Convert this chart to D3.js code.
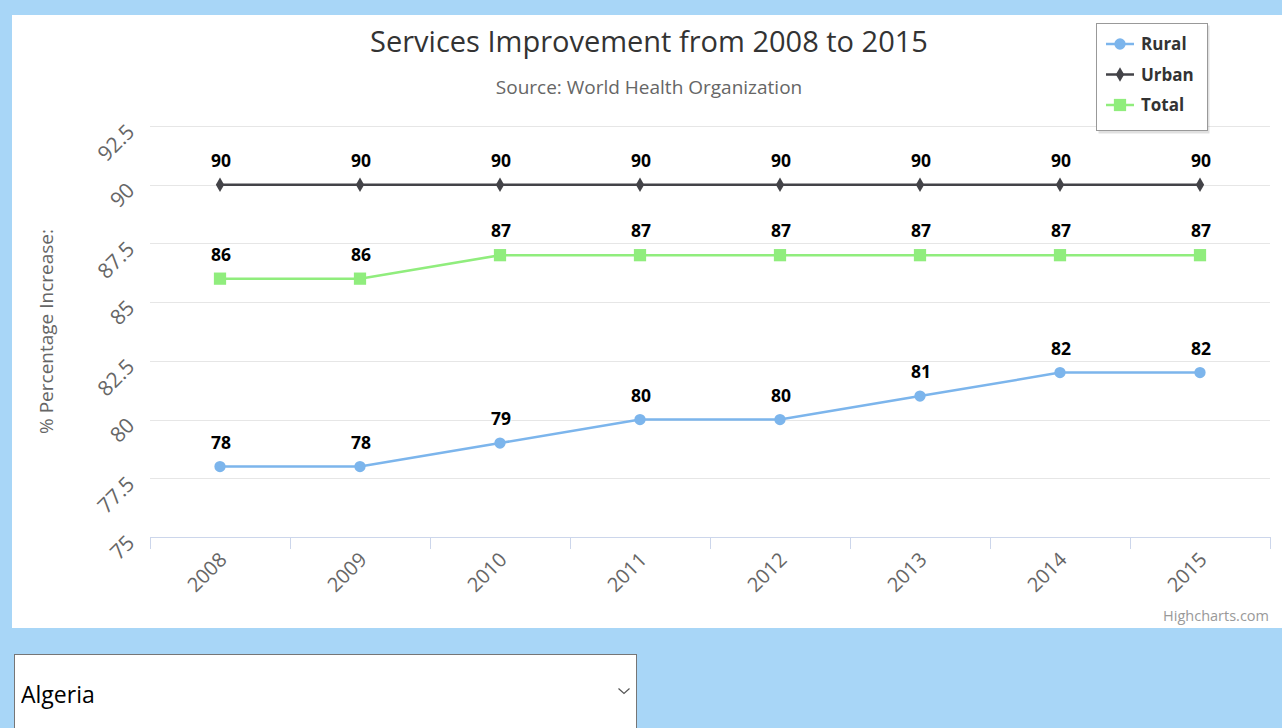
<!DOCTYPE html>
<html>
<head>
<meta charset="utf-8">
<script src="https://cdnjs.cloudflare.com/ajax/libs/d3/7.8.5/d3.min.js"></script>
<style>
  body { margin: 0; background: #a8d6f7; width: 1282px; height: 728px; overflow: hidden; position: relative; font-family: "Open Sans", sans-serif; }
  #panel { position: absolute; left: 12px; top: 15px; width: 1270px; height: 613px; background: #fff; }
  #chart { position: absolute; left: 0; top: 0; }
  #country { position: absolute; left: 14px; top: 654px; width: 623px; height: 80px; font-family: "Open Sans", sans-serif; font-size: 23px; color: #000; background: #fff; border: 1px solid #767676; padding-left: 6px; -webkit-appearance: none; appearance: none; border-radius: 0; }
  #chevron { position: absolute; left: 617px; top: 686px; }
</style>
</head>
<body>
<div id="panel"></div>
<div id="chart"></div>
<select id="country"><option>Algeria</option></select>
<svg id="chevron" width="14" height="10"><path d="M1.5,2.5 L7,7.5 L12.5,2.5" fill="none" stroke="#555" stroke-width="1.2"/></svg>
<script>
var years = ['2008', '2009', '2010', '2011', '2012', '2013', '2014', '2015'];
var rural = [78, 78, 79, 80, 80, 81, 82, 82];
var urban = [90, 90, 90, 90, 90, 90, 90, 90];
var total = [86, 86, 87, 87, 87, 87, 87, 87];
var yTicks = [75, 77.5, 80, 82.5, 85, 87.5, 90, 92.5];

var series = [
    {name: 'Rural', values: rural, color: '#7cb5ec', symbol: 'circle'},
    {name: 'Urban', values: urban, color: '#434348', symbol: 'diamond'},
    {name: 'Total', values: total, color: '#90ed7d', symbol: 'square'}
];

var svg = d3.select('#chart').append('svg')
    .attr('width', 1282)
    .attr('height', 728);

var x = d3.scaleBand().domain(years).range([150, 1270]);
var y = d3.scaleLinear().domain([75, 92.5]).range([537, 126]);

// title + subtitle
svg.append('text')
    .attr('x', 649).attr('y', 52)
    .attr('text-anchor', 'middle')
    .style('font-size', '29px').style('fill', '#333')
    .text('Services Improvement from 2008 to 2015');
svg.append('text')
    .attr('x', 649).attr('y', 94)
    .attr('text-anchor', 'middle')
    .style('font-size', '19px').style('fill', '#666')
    .text('Source: World Health Organization');

// grid
svg.append('g').selectAll('line')
    .data(yTicks.slice(1))
    .enter().append('line')
    .attr('x1', 150).attr('x2', 1270)
    .attr('y1', function(d){ return Math.round(y(d)) + 0.5; })
    .attr('y2', function(d){ return Math.round(y(d)) + 0.5; })
    .attr('stroke', '#e6e6e6');

// y axis labels
var yAxis = svg.append('g').attr('transform', 'translate(150,0)')
    .call(d3.axisLeft(y).tickValues(yTicks).tickFormat(function(d){ return d; }).tickSize(0).tickPadding(0));
yAxis.select('.domain').remove();
yAxis.selectAll('text')
    .attr('x', -20).attr('dy', null).attr('y', 0)
    .attr('transform', 'rotate(-45)')
    .style('font-family', '"Open Sans", sans-serif')
    .style('font-size', '21px').style('fill', '#666');
yAxis.selectAll('.tick')
    .attr('transform', function(d){ return 'translate(0,' + (y(d) - 7) + ')'; });

svg.append('text')
    .attr('transform', 'translate(53,' + ((y(75) + y(92.5)) / 2) + ') rotate(-90)')
    .attr('text-anchor', 'middle')
    .style('font-size', '19px').style('fill', '#666')
    .text('% Percentage Increase:');

// x axis
svg.append('line')
    .attr('x1', 150).attr('x2', 1270)
    .attr('y1', 537.5).attr('y2', 537.5)
    .attr('stroke', '#ccd6eb');
svg.append('g').selectAll('line')
    .data(years.map(function(d){ return x(d); }).concat([x.range()[1]]))
    .enter().append('line')
    .attr('x1', function(d){ return d + 0.5; })
    .attr('x2', function(d){ return d + 0.5; })
    .attr('y1', 537).attr('y2', 549)
    .attr('stroke', '#ccd6eb');
svg.append('g').selectAll('text')
    .data(years)
    .enter().append('text')
    .attr('transform', function(d){ return 'translate(' + (x(d) + x.bandwidth() / 2 + 8) + ',561) rotate(-45)'; })
    .attr('text-anchor', 'end')
    .style('font-size', '20px').style('fill', '#666')
    .text(function(d){ return d; });

// series
var line = d3.line()
    .x(function(d, i){ return x(years[i]) + x.bandwidth() / 2; })
    .y(function(d){ return y(d); });

var symbols = {circle: d3.symbolCircle, diamond: d3.symbolDiamond, square: d3.symbolSquare};
var sizes = {circle: 100, diamond: 60, square: 150};

series.forEach(function(s){
    var g = svg.append('g');
    g.append('path')
        .attr('d', line(s.values))
        .attr('fill', 'none')
        .attr('stroke', s.color)
        .attr('stroke-width', 2.5);
    g.selectAll('path.m')
        .data(s.values)
        .enter().append('path')
        .attr('class', 'm')
        .attr('d', d3.symbol().type(symbols[s.symbol]).size(sizes[s.symbol]))
        .attr('transform', function(d, i){ return 'translate(' + (x(years[i]) + x.bandwidth() / 2) + ',' + y(d) + ')'; })
        .attr('fill', s.color);
    g.selectAll('text')
        .data(s.values)
        .enter().append('text')
        .attr('x', function(d, i){ return x(years[i]) + x.bandwidth() / 2 + 1; })
        .attr('y', function(d){ return y(d) - 18; })
        .attr('text-anchor', 'middle')
        .style('font-size', '17.5px').style('font-weight', 'bold')
        .style('fill', '#000')
        .style('stroke', '#fff').style('stroke-width', 2).style('paint-order', 'stroke')
        .text(function(d){ return d; });
});

// legend
var legend = svg.append('g').attr('transform', 'translate(1096,23)');
legend.append('rect')
    .attr('x', 2.5).attr('y', 2.5).attr('width', 111).attr('height', 108)
    .attr('fill', '#000').attr('opacity', 0.12);
legend.append('rect')
    .attr('x', 0.5).attr('y', 0.5).attr('width', 111).attr('height', 107)
    .attr('fill', '#fff').attr('stroke', '#999');
series.forEach(function(s, i){
    var row = legend.append('g').attr('transform', 'translate(0,' + (21 + i * 30.5) + ')');
    row.append('line')
        .attr('x1', 10).attr('x2', 38)
        .attr('stroke', s.color).attr('stroke-width', 2.5);
    row.append('path')
        .attr('d', d3.symbol().type(symbols[s.symbol]).size(sizes[s.symbol]))
        .attr('transform', 'translate(24,0)')
        .attr('fill', s.color);
    row.append('text')
        .attr('x', 45).attr('y', 6)
        .style('font-size', '17px').style('font-weight', 'bold').style('fill', '#333')
        .text(s.name);
});

svg.append('text')
    .attr('x', 1269).attr('y', 621)
    .attr('text-anchor', 'end')
    .style('font-size', '14.5px').style('fill', '#999')
    .text('Highcharts.com');
</script>
</body>
</html>
